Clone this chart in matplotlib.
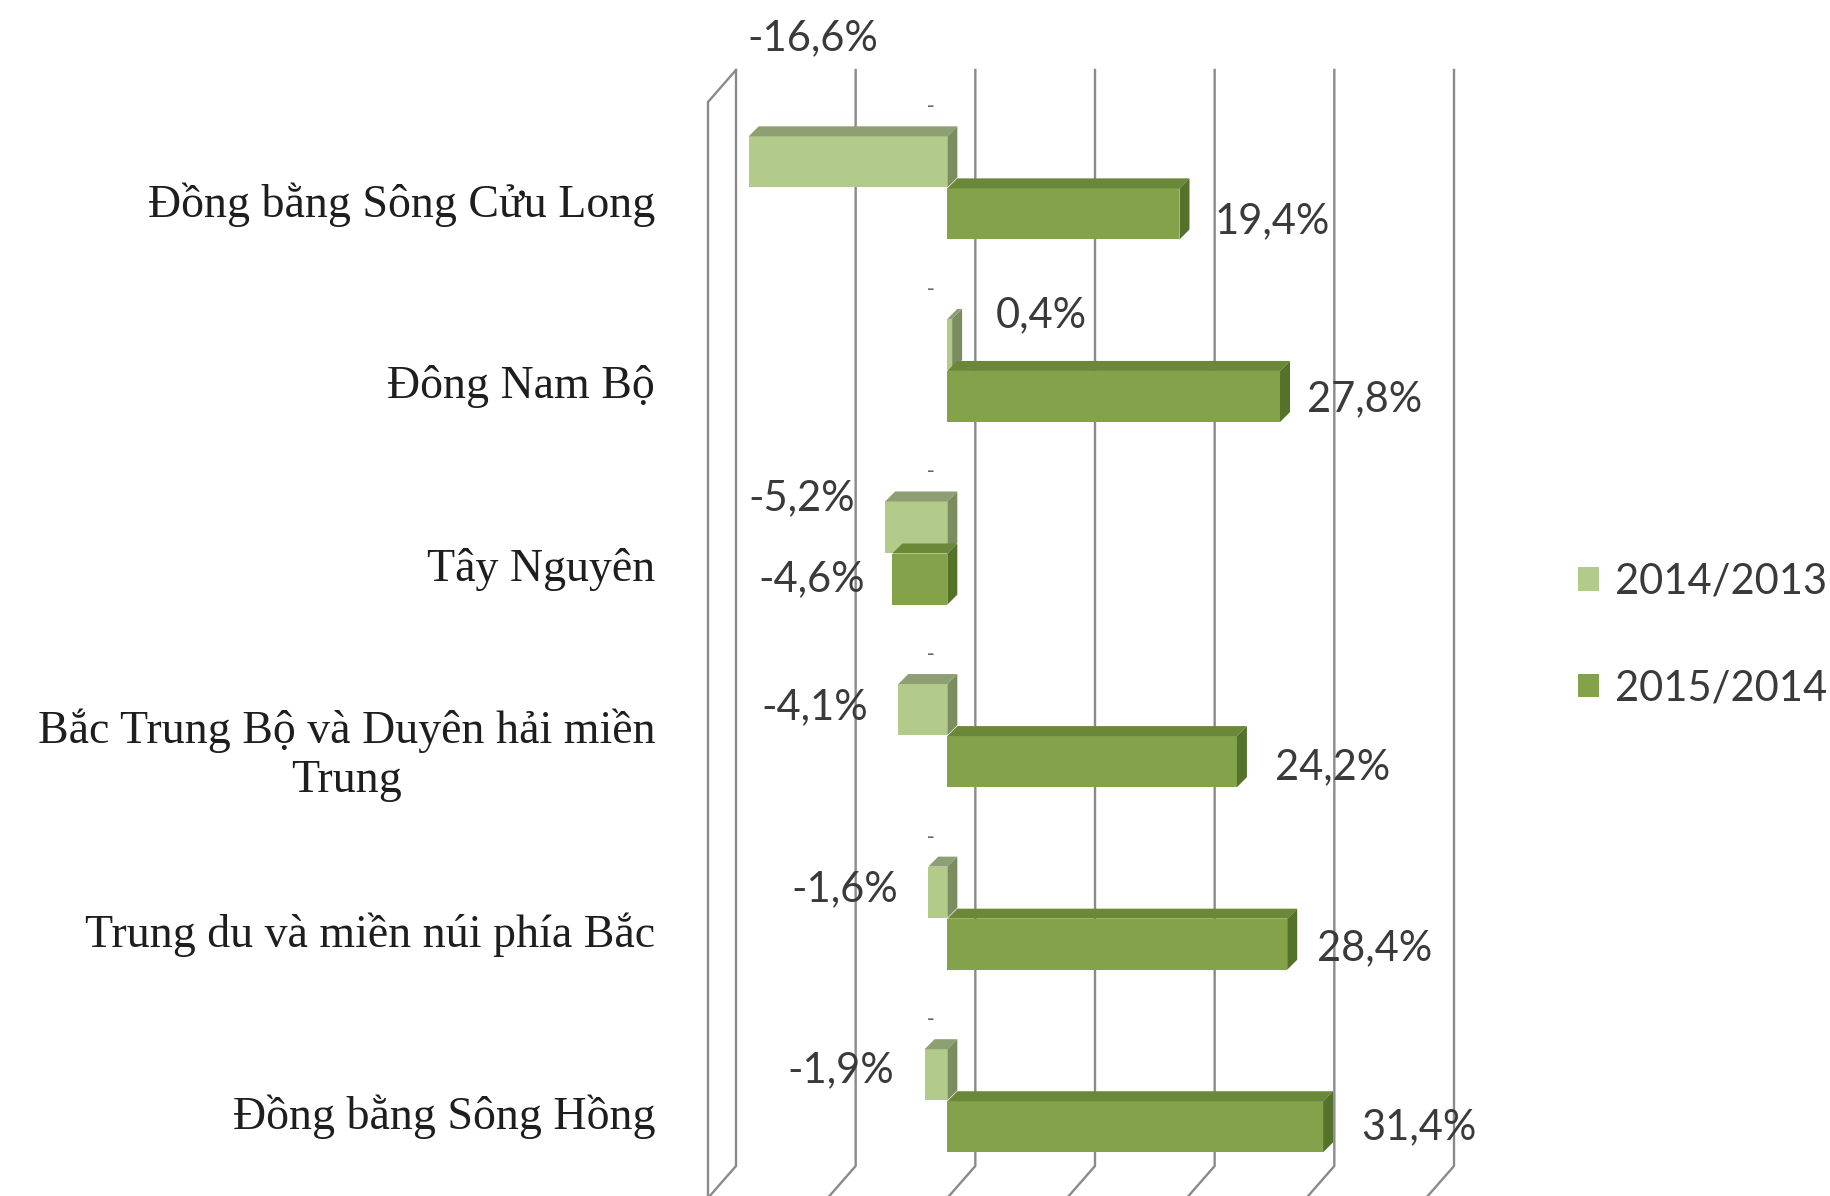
import matplotlib
matplotlib.use('Agg')
import matplotlib.pyplot as plt
from matplotlib.patches import Polygon, Patch

# data
regions = ['Đồng bằng Sông Cửu Long', 'Đông Nam Bộ', 'Tây Nguyên',
           'Bắc Trung Bộ và Duyên hải miền\nTrung', 'Trung du và miền núi phía Bắc',
           'Đồng bằng Sông Hồng']
series_names = ['2014/2013', '2015/2014']
growth_2014 = [-16.6, 0.4, -5.2, -4.1, -1.6, -1.9]
growth_2015 = [19.4, 27.8, -4.6, 24.2, 28.4, 31.4]
x_ticks = [-20, -10, 0, 10, 20, 30, 40]

# colours: front, top, side
light = ('#b2cb8b', '#8f9f74', '#7b8d5f')
dark = ('#83a24a', '#6a8838', '#55722a')
grid_col = '#8a8a8a'
text_col = '#3a3a3a'

W, H = 1831, 1196
fig = plt.figure(figsize=(W / 100, H / 100), dpi=100)
# axes = front plane of the 3D box (pixels: x 708..1426, y 102..1198)
ax = fig.add_axes([708 / W, (H - 1198) / H, 718 / W, 1096 / H])
ax.set_xlim(-20, 40)
ax.set_ylim(5.57, -0.433)
for s in ax.spines.values():
    s.set_visible(False)
ax.set_xticks([])
ax.patch.set_alpha(0)

# depth of the box and of bars, in data units
px_x = 718 / 60.0
px_y = 1096 / (5.57 + 0.433)
ddx, ddy = 28 / px_x, 32 / px_y
bdx, bdy = 10 / px_x, 10 / px_y
ytop, ybot = -0.433, 5.57

# back wall gridlines + floor diagonals
for v in x_ticks:
    ax.plot([v + ddx, v + ddx, v], [ytop - ddy, ybot - ddy, ybot],
            color=grid_col, lw=1.7, clip_on=False, zorder=1)
# left side wall
ax.plot([-20, -20, -20 + ddx], [ybot, ytop, ytop - ddy],
        color=grid_col, lw=1.7, clip_on=False, zorder=1)

h = 0.28
pos = list(range(len(regions)))
off_light, off_dark = -0.105, 0.18


def draw_bars(vals, offset, cols):
    ys = [p + offset for p in pos]
    ax.barh(ys, vals, height=h, color=cols[0], zorder=3, linewidth=0)
    for y, v in zip(ys, vals):
        lo, hi = min(v, 0), max(v, 0)
        t, b = y - h / 2, y + h / 2
        ax.add_patch(Polygon([(lo, t), (hi, t), (hi + bdx, t - bdy), (lo + bdx, t - bdy)],
                             closed=True, color=cols[1], lw=0, zorder=3))
        ax.add_patch(Polygon([(hi, t), (hi + bdx, t - bdy), (hi + bdx, b - bdy), (hi, b)],
                             closed=True, color=cols[2], lw=0, zorder=3))


draw_bars(growth_2014, off_light, light)
draw_bars(growth_2015, off_dark, dark)


def fmt(v):
    return f'{v:.1f}%'.replace('.', ',')


lab_font = dict(family='Lato', fontsize=30, color=text_col, zorder=5)

# label offsets in points (layout only)
off_2014 = [(46, 89), (24, 21), (-22, 21), (-22, 2), (-22, 2), (-22, 3)]
off_2015 = [(18, -5), (12, -2), (-20, 0), (20, -4), (14, -3), (20, 0)]
for i, v in enumerate(growth_2014):
    y = pos[i] + off_light
    if i == 0:
        ax.annotate(fmt(v), (v, y), xytext=off_2014[i], textcoords='offset points',
                    ha='center', va='center', annotation_clip=False, **lab_font)
    elif v >= 0:
        ax.annotate(fmt(v), (v + bdx, y), xytext=off_2014[i], textcoords='offset points',
                    ha='left', va='center', annotation_clip=False, **lab_font)
    else:
        ax.annotate(fmt(v), (v, y), xytext=off_2014[i], textcoords='offset points',
                    ha='right', va='center', annotation_clip=False, **lab_font)
    # tiny stray mark above each light bar
    ax.annotate('-', (0, pos[i] - 0.41), xytext=(-12, 0), textcoords='offset points',
                ha='center', va='center', fontsize=15, color='#666666',
                annotation_clip=False)
for i, v in enumerate(growth_2015):
    y = pos[i] + off_dark
    if v >= 0:
        ax.annotate(fmt(v), (v + bdx, y), xytext=off_2015[i], textcoords='offset points',
                    ha='left', va='center', annotation_clip=False, **lab_font)
    else:
        ax.annotate(fmt(v), (v, y), xytext=off_2015[i], textcoords='offset points',
                    ha='right', va='center', annotation_clip=False, **lab_font)

# category labels
ax.set_yticks([p + 0.1 for p in pos])
ax.set_yticklabels(regions, family='Liberation Serif', fontsize=33, color='#1e1e1e')
ax.tick_params(axis='y', length=0, pad=38)
for t in ax.get_yticklabels():
    t.set_multialignment('center')

handles = [Patch(facecolor=light[0], edgecolor='none'), Patch(facecolor=dark[0], edgecolor='none')]
fig.legend(handles, series_names, loc='center left', bbox_to_anchor=(1578 / W, 1 - 635 / H),
           frameon=False, prop={'family': 'Lato', 'size': 30}, labelcolor=text_col,
           handlelength=0.5, handleheight=0.5, handletextpad=0.4, labelspacing=1.65,
           borderaxespad=0, borderpad=0)

fig.savefig('out.png', dpi=100, facecolor='white')
